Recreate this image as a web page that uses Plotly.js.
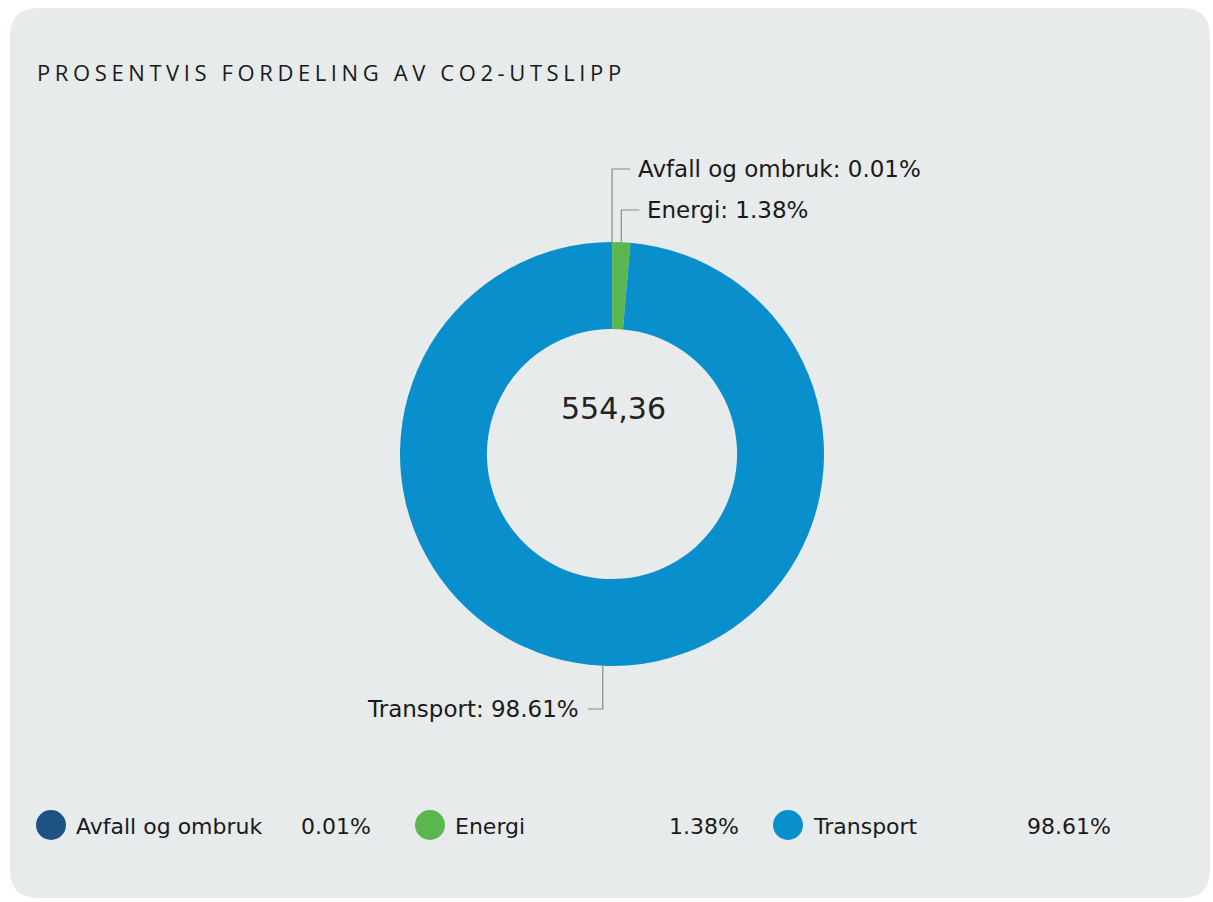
<!DOCTYPE html>
<html>
<head>
<meta charset="utf-8">
<script src="https://cdn.plot.ly/plotly-3.0.1.min.js"></script>
<style>
  html, body { margin: 0; padding: 0; background: #ffffff; }
  #chart { width: 1213px; height: 902px; }
  .gtitle { letter-spacing: 4.6px; }
</style>
</head>
<body>
<div id="chart"></div>
<script>
// ---- data ----
const categories = ['Avfall og ombruk', 'Energi', 'Transport'];
const shares = [0.01, 1.38, 98.61];
const centerValue = '554,36';
const chartTitle = 'PROSENTVIS FORDELING AV CO2-UTSLIPP';

// ---- styles / layout constants ----
const sliceColors = ['#1d5282', '#5cb650', '#0a8fcd'];
const W = 1213, H = 902;
const cx = 612, cy = 454, R = 212, holeFrac = 0.59;
const labelYs = [169, 210, 709];       // label rows (px)
const hookLen = [18, 18, -15];          // horizontal part of leader (px)
const legendCx = [51, 430, 788];        // legend marker centres (px)
const legendPctRight = [373, 741, 1113];
const legendY = 825, legendR = 15;
const textFont = 'DejaVu Sans, Verdana, sans-serif';
const textColor = '#1a1a1a';

const px = x => x / W;
const py = y => 1 - y / H;
const fmt = v => v.toFixed(2) + '%';

const total = shares.reduce((a, b) => a + b, 0);

const trace = {
  type: 'pie',
  labels: categories,
  values: shares,
  sort: false,
  direction: 'clockwise',
  rotation: 0,
  hole: holeFrac,
  textinfo: 'none',
  hoverinfo: 'skip',
  showlegend: false,
  marker: { colors: sliceColors, line: { width: 0 } },
  domain: { x: [px(cx - R), px(cx + R)], y: [py(cy + R), py(cy - R)] }
};

const shapes = [];
const annotations = [];

// card background
(function () {
  const x0 = 10, y0 = 8, x1 = 1210, y1 = 898, r = 28;
  const rx = r / W, ry = r / H;
  const L = px(x0), Rr = px(x1), T = py(y0), B = py(y1);
  const path = `M ${L + rx} ${T} L ${Rr - rx} ${T} Q ${Rr} ${T} ${Rr} ${T - ry} ` +
    `L ${Rr} ${B + ry} Q ${Rr} ${B} ${Rr - rx} ${B} L ${L + rx} ${B} Q ${L} ${B} ${L} ${B + ry} ` +
    `L ${L} ${T - ry} Q ${L} ${T} ${L + rx} ${T} Z`;
  shapes.push({ type: 'path', xref: 'paper', yref: 'paper', path: path,
    fillcolor: '#e8ebec', line: { width: 0 }, layer: 'below' });
})();

// leader lines + outside labels, computed from slice mid-angles
let cum = 0;
shares.forEach((v, i) => {
  const mid = (cum + v / 2) / total * 2 * Math.PI;
  cum += v;
  const ex = cx + R * Math.sin(mid);
  const ey = cy - R * Math.cos(mid);
  const ly = labelYs[i];
  const hx = ex + hookLen[i];
  shapes.push({
    type: 'path', xref: 'paper', yref: 'paper',
    path: `M ${px(ex)} ${py(ey)} L ${px(ex)} ${py(ly)} L ${px(hx)} ${py(ly)}`,
    line: { color: '#8a8a8a', width: 1.2 }
  });
  const right = hookLen[i] > 0;
  annotations.push({
    xref: 'paper', yref: 'paper',
    x: px(hx + (right ? 6 : -7)), y: py(ly),
    xanchor: right ? 'left' : 'right', yanchor: 'middle',
    text: categories[i] + ': ' + fmt(v),
    showarrow: false,
    font: { family: textFont, size: 23, color: textColor }
  });
});

// centre value
annotations.push({
  xref: 'paper', yref: 'paper', x: px(cx + 1), y: py(409),
  xanchor: 'center', yanchor: 'middle', text: centerValue, showarrow: false,
  font: { family: textFont, size: 30, color: '#222222' }
});

// custom legend
categories.forEach((c, i) => {
  shapes.push({
    type: 'circle', xref: 'paper', yref: 'paper',
    x0: px(legendCx[i] - legendR), x1: px(legendCx[i] + legendR),
    y0: py(legendY + legendR), y1: py(legendY - legendR),
    fillcolor: sliceColors[i], line: { width: 0 }
  });
  annotations.push({
    xref: 'paper', yref: 'paper', x: px(legendCx[i] + 23), y: py(legendY + 1),
    xanchor: 'left', yanchor: 'middle', text: c, showarrow: false,
    font: { family: textFont, size: 22, color: textColor }
  });
  annotations.push({
    xref: 'paper', yref: 'paper', x: px(legendPctRight[i]), y: py(legendY + 1),
    xanchor: 'right', yanchor: 'middle', text: fmt(shares[i]), showarrow: false,
    font: { family: textFont, size: 22, color: textColor }
  });
});

const layout = {
  width: W, height: H,
  margin: { l: 0, r: 0, t: 0, b: 0 },
  paper_bgcolor: '#ffffff',
  plot_bgcolor: 'rgba(0,0,0,0)',
  showlegend: false,
  title: {
    text: chartTitle,
    x: px(37), xanchor: 'left', xref: 'paper',
    y: py(73), yanchor: 'middle', yref: 'paper',
    font: { family: 'Open Sans, sans-serif', size: 22, color: '#1a1a1a' }
  },
  shapes: shapes,
  annotations: annotations
};

Plotly.newPlot('chart', [trace], layout, { displayModeBar: false, staticPlot: true });
</script>
</body>
</html>
